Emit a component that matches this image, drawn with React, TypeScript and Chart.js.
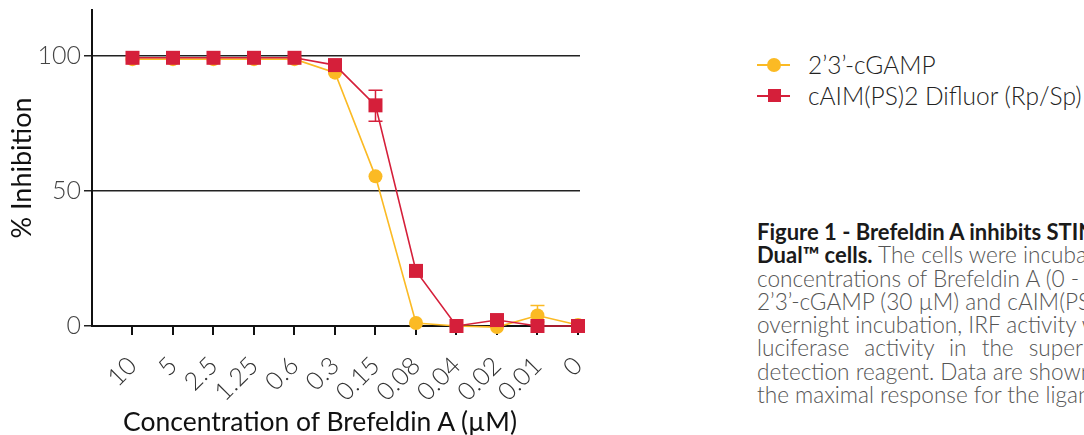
import React, { useEffect, useRef } from "react";
import { Chart, registerables } from "chart.js";

Chart.register(...registerables);

const categories = ["10", "5", "2.5", "1.25", "0.6", "0.3", "0.15", "0.08", "0.04", "0.02", "0.01", "0"];
const cgampValues = [98.8, 98.8, 98.8, 98.8, 98.8, 93.8, 55.4, 1.1, 0, -0.4, 3.9, 0.4];
const cgampErrLow: (number | null)[] = [null, null, null, null, null, null, null, null, null, null, 1.5, null];
const cgampErrHigh: (number | null)[] = [null, null, null, null, null, null, null, null, null, null, 7.6, null];
const caimValues = [99.3, 99.3, 99.3, 99.3, 99.3, 96.6, 81.7, 20.4, 0, 2.2, 0, 0];
const caimErrLow: (number | null)[] = [null, null, null, null, null, null, 75.8, null, null, null, null, null];
const caimErrHigh: (number | null)[] = [null, null, null, null, null, null, 87.3, null, null, null, null, null];
const yTickValues = [0, 50, 100];

const seriesNames = ["2’3’-cGAMP", "cAIM(PS)2 Difluor (Rp/Sp)"];
const YELLOW = "#FBBA24";
const RED = "#D51F3A";

const errorBarPlugin = {
  id: "errorBars",
  beforeDatasetsDraw(chart: any) {
    const { ctx, scales } = chart;
    const xs = scales.x;
    const ys = scales.y;
    chart.data.datasets.forEach((ds: any) => {
      const lows = ds.errLow as (number | null)[];
      const highs = ds.errHigh as (number | null)[];
      if (!lows) return;
      ctx.save();
      ctx.strokeStyle = ds.borderColor;
      ctx.lineWidth = 1.5;
      lows.forEach((lo, i) => {
        const hi = highs[i];
        if (lo == null || hi == null) return;
        const x = xs.getPixelForValue(i);
        const y1 = ys.getPixelForValue(lo);
        const y2 = ys.getPixelForValue(hi);
        ctx.beginPath();
        ctx.moveTo(x, y1);
        ctx.lineTo(x, y2);
        ctx.moveTo(x - 7, y1);
        ctx.lineTo(x + 7, y1);
        ctx.moveTo(x - 7, y2);
        ctx.lineTo(x + 7, y2);
        ctx.stroke();
      });
      ctx.restore();
    });
  },
};

export default function App() {
  const canvasRef = useRef<HTMLCanvasElement | null>(null);

  useEffect(() => {
    if (!canvasRef.current) return;
    const chart = new Chart(canvasRef.current, {
      type: "line",
      data: {
        datasets: [
          {
            label: seriesNames[1],
            data: caimValues.map((v, i) => ({ x: i, y: v })),
            borderColor: RED,
            backgroundColor: RED,
            borderWidth: 1.6,
            pointStyle: "rect",
            pointRadius: 9.9,
            pointBorderWidth: 0,
            clip: false,
            errLow: caimErrLow,
            errHigh: caimErrHigh,
          } as any,
          {
            label: seriesNames[0],
            data: cgampValues.map((v, i) => ({ x: i, y: v })),
            borderColor: YELLOW,
            backgroundColor: YELLOW,
            borderWidth: 1.6,
            pointStyle: "circle",
            pointRadius: 7,
            pointBorderWidth: 0,
            clip: false,
            errLow: cgampErrLow,
            errHigh: cgampErrHigh,
          } as any,
        ],
      },
      options: {
        animation: false,
        responsive: true,
        maintainAspectRatio: false,
        layout: { padding: { top: 10, right: 30, left: 0, bottom: 0 } },
        plugins: {
          legend: { display: false },
          tooltip: { enabled: false },
        },
        scales: {
          x: {
            type: "linear",
            min: -1,
            max: 11.05,
            afterBuildTicks: (scale: any) => {
              scale.ticks = categories.map((_, i) => ({ value: i }));
            },
            afterFit: (scale: any) => {
              scale.height = 109;
              scale.paddingLeft = 0;
              scale.paddingRight = 0;
            },
            border: { display: true, color: "#111", width: 2 },
            grid: {
              drawOnChartArea: false,
              drawTicks: true,
              tickLength: 9,
              color: "#111",
              lineWidth: 2,
            },
            ticks: {
              autoSkip: false,
              minRotation: 45,
              maxRotation: 45,
              padding: 16,
              color: "#333",
              font: { family: "Lato", size: 25, weight: "300" as any },
              callback: (v: any) => categories[v] ?? "",
            },
          },
          y: {
            type: "linear",
            min: 0,
            max: 117,
            afterBuildTicks: (scale: any) => {
              scale.ticks = yTickValues.map((v) => ({ value: v }));
            },
            afterFit: (scale: any) => {
              scale.width = 92;
              scale.paddingTop = 0;
              scale.paddingBottom = 0;
            },
            border: { display: true, color: "#111", width: 2 },
            grid: {
              drawOnChartArea: true,
              drawTicks: true,
              tickLength: 8,
              color: "#222",
              lineWidth: 1.5,
            },
            ticks: {
              padding: 3,
              color: "#444",
              font: { family: "Lato", size: 25, weight: "300" as any },
            },
            title: {
              display: true,
              text: "% Inhibition",
              color: "#111",
              padding: { top: 6, bottom: 0 },
              font: { family: "Lato", size: 27, weight: "400" as any },
            },
          },
        },
      },
      plugins: [errorBarPlugin],
    });
    return () => chart.destroy();
  }, []);

  const captionLine: React.CSSProperties = { whiteSpace: "nowrap", height: 23.3, lineHeight: "23.3px" };
  const bold: React.CSSProperties = { fontWeight: 700, color: "#1a1a1a", fontSize: 22 };

  return (
    <div
      style={{
        position: "fixed",
        left: 0,
        top: 0,
        width: 1084,
        height: 435,
        overflow: "hidden",
        background: "#fff",
        fontFamily: "Lato, sans-serif",
      }}
    >
      <div style={{ position: "absolute", left: 0, top: 0, width: 610, height: 435 }}>
        <canvas ref={canvasRef} />
      </div>
      <div
        style={{
          position: "absolute",
          left: 0,
          width: 640,
          top: 405,
          textAlign: "center",
          fontSize: 26.5,
          lineHeight: "32px",
          color: "#111",
          whiteSpace: "nowrap",
        }}
      >
        Concentration of Brefeldin A (µM)
      </div>

      {/* legend */}
      <div style={{ position: "absolute", left: 757, top: 64, width: 33, height: 1.5, background: YELLOW }} />
      <div style={{ position: "absolute", left: 767, top: 58, width: 14, height: 14, borderRadius: 7, background: YELLOW }} />
      <div style={{ position: "absolute", left: 808, top: 50, fontSize: 24.5, lineHeight: "30px", fontWeight: 300, color: "#222", whiteSpace: "nowrap" }}>
        {seriesNames[0]}
      </div>
      <div style={{ position: "absolute", left: 757, top: 95, width: 33, height: 1.5, background: RED }} />
      <div style={{ position: "absolute", left: 768, top: 89, width: 13, height: 13, background: RED }} />
      <div style={{ position: "absolute", left: 808, top: 81, fontSize: 24.5, lineHeight: "30px", fontWeight: 300, color: "#222", whiteSpace: "nowrap" }}>
        {seriesNames[1]}
      </div>

      {/* caption */}
      <div style={{ position: "absolute", left: 757, top: 220, fontSize: 22.6, fontWeight: 300, color: "#555" }}>
        <div style={captionLine}>
          <span style={bold}>Figure 1 - Brefeldin A inhibits STING</span>
        </div>
        <div style={captionLine}>
          <span style={bold}>Dual™ cells.</span> The cells were incubated
        </div>
        <div style={captionLine}>concentrations of Brefeldin A (0 - 10 µM)</div>
        <div style={captionLine}>2’3’-cGAMP (30 µM) and cAIM(PS)2</div>
        <div style={captionLine}>overnight incubation, IRF activity was</div>
        <div style={{ ...captionLine, wordSpacing: 9 }}>luciferase activity in the supernatant</div>
        <div style={captionLine}>detection reagent. Data are shown</div>
        <div style={captionLine}>the maximal response for the ligand</div>
      </div>
    </div>
  );
}
